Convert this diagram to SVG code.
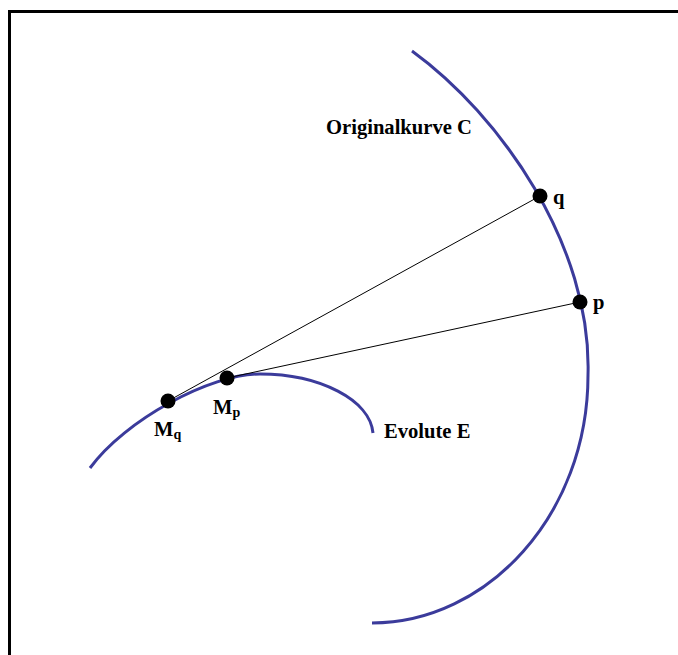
<svg xmlns="http://www.w3.org/2000/svg" width="678" height="655" viewBox="0 0 678 655">
<style>
.curve{fill:none;stroke:#3b3b9b;stroke-width:3;stroke-linecap:butt}
.ray{stroke:#000;stroke-width:1;fill:none}
.dot{fill:#000}
text{font-family:"Liberation Serif","Times New Roman",serif;font-weight:bold;font-size:20.6px;fill:#000}
.sub{font-size:14px}
</style>
<rect width="678" height="655" fill="#fff"/>
<path d="M9.5,655 V11.5 H678" fill="none" stroke="#000" stroke-width="3"/>
<g id="curveC">
<path class="curve" d="M412,51 C500,115 592,245 588,375 C588,515 487,623 372,623"/>
<text x="326" y="134">Originalkurve C</text>
</g>
<g id="evoluteE">
<path class="curve" d="M90,468 C125,420 210,374 260,374 C320,374 370,400 373,433"/>
<text x="384" y="438">Evolute E</text>
</g>
<g id="connectors">
<line class="ray" x1="168" y1="401" x2="540" y2="196"/>
<line class="ray" x1="227" y1="378" x2="580" y2="302"/>
</g>
<g id="q">
<circle class="dot" cx="540" cy="196" r="7.5"/>
<text x="553" y="204">q</text>
</g>
<g id="p">
<circle class="dot" cx="580" cy="302" r="7.5"/>
<text x="593" y="309">p</text>
</g>
<g id="Mq">
<circle class="dot" cx="168" cy="401" r="7.5"/>
<text x="154" y="436">M<tspan class="sub" dy="3">q</tspan></text>
</g>
<g id="Mp">
<circle class="dot" cx="227" cy="378" r="7.5"/>
<text x="213" y="414">M<tspan class="sub" dy="3">p</tspan></text>
</g>
</svg>
